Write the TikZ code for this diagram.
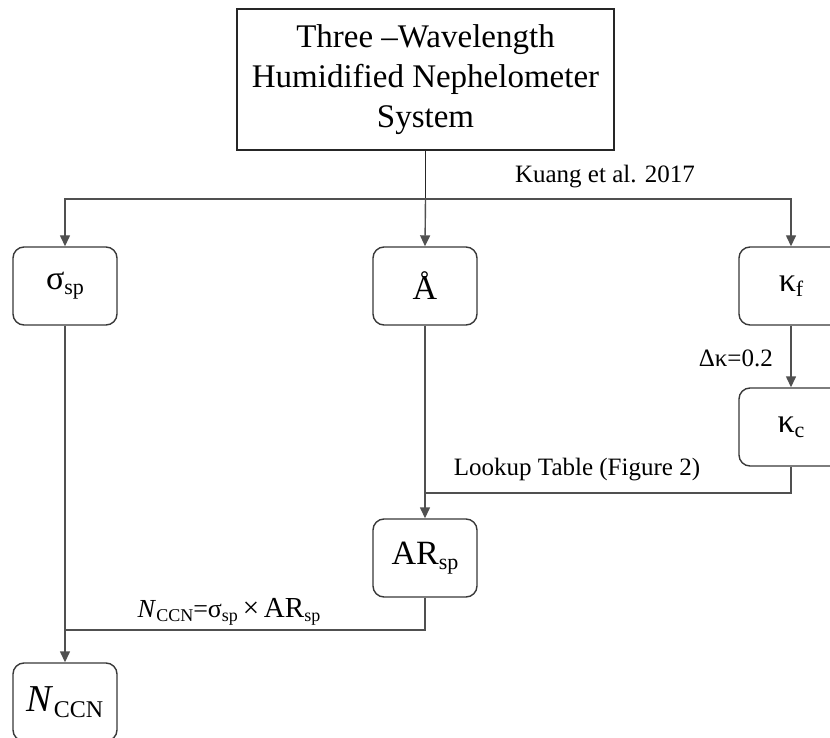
\documentclass[tikz,border=0pt]{standalone}
\usepackage{fontspec}
\setmainfont{Liberation Serif}
\usetikzlibrary{arrows.meta}
\newcommand{\mysub}[2][22]{\raisebox{-0.32ex}{\fontsize{#1}{#1}\selectfont #2}}
\definecolor{ln}{RGB}{80,80,80}
\tikzset{
  box/.style={draw=ln!70!black, line width=1.4pt, rounded corners=11pt, minimum width=104pt, minimum height=78pt, inner sep=0pt, fill=white, font=\fontsize{34}{38}\selectfont},
  topbox/.style={draw=black!85, line width=1.6pt, minimum width=377pt, minimum height=141pt, align=center, inner sep=0pt, font=\fontsize{33}{40}\selectfont},
  conn/.style={draw=ln, line width=1.4pt},
  arr/.style={conn, -{Triangle[length=11pt,width=10pt]}},
  lab/.style={inner sep=0pt, font=\fontsize{25}{30}\selectfont}
}
\begin{document}
\begin{tikzpicture}[x=1pt,y=-1pt]
\useasboundingbox (0,0) rectangle (830,738);
\clip (0,0) rectangle (830,738);
\node[topbox] (top) at (425.5,79.5) {Three –Wavelength\\Humidified Nephelometer\\System};
\node[box] (sig) at (65,286) {σ\mysub{sp}};
\node[box] (ang) at (425,286) {Å};
\node[box] (kf) at (791,286) {κ\mysub{f}};
\node[box] (kc) at (791,427) {κ\mysub{c}};
\node[box] (ar) at (425,558) {AR\mysub{sp}};
\node[box] (nccn) at (65,702) {\fontsize{38}{40}\selectfont\textit{N}\mysub[24]{CCN}};
\coordinate (br) at (425.5,199);
\coordinate (lk) at (791,493);
\coordinate (nc) at (425,630);
\draw[conn, draw=black!85] (top.south) -- (br);
\draw[arr] (br) -- (ang.north);
\draw[arr] (br) -| (sig.north);
\draw[arr] (br) -| (kf.north);
\draw[arr] (kf.south) -- (kc.north);
\draw[conn] (kc.south) -- (lk) -- (ang.south |- lk);
\draw[arr] (ang.south) -- (ar.north);
\draw[conn] (ar.south) -- (nc) -- (sig.south |- nc);
\draw[arr] (sig.south) -- (nccn.north);
\node[lab] (kuang) at (605,177) {Kuang et al. 2017};
\node[lab, anchor=east] (dk) at (773,358) {Δκ=0.2};
\node[lab] (lookup) at (577,470) {Lookup Table (Figure 2)};
\node[lab] (eq) at (229,612) {\fontsize{26}{30}\selectfont\textit{N}\mysub[18]{CCN}=σ\mysub[18]{sp}\fontsize{29}{30}\selectfont\,×\,AR\mysub[18]{sp}};
\end{tikzpicture}
\end{document}
